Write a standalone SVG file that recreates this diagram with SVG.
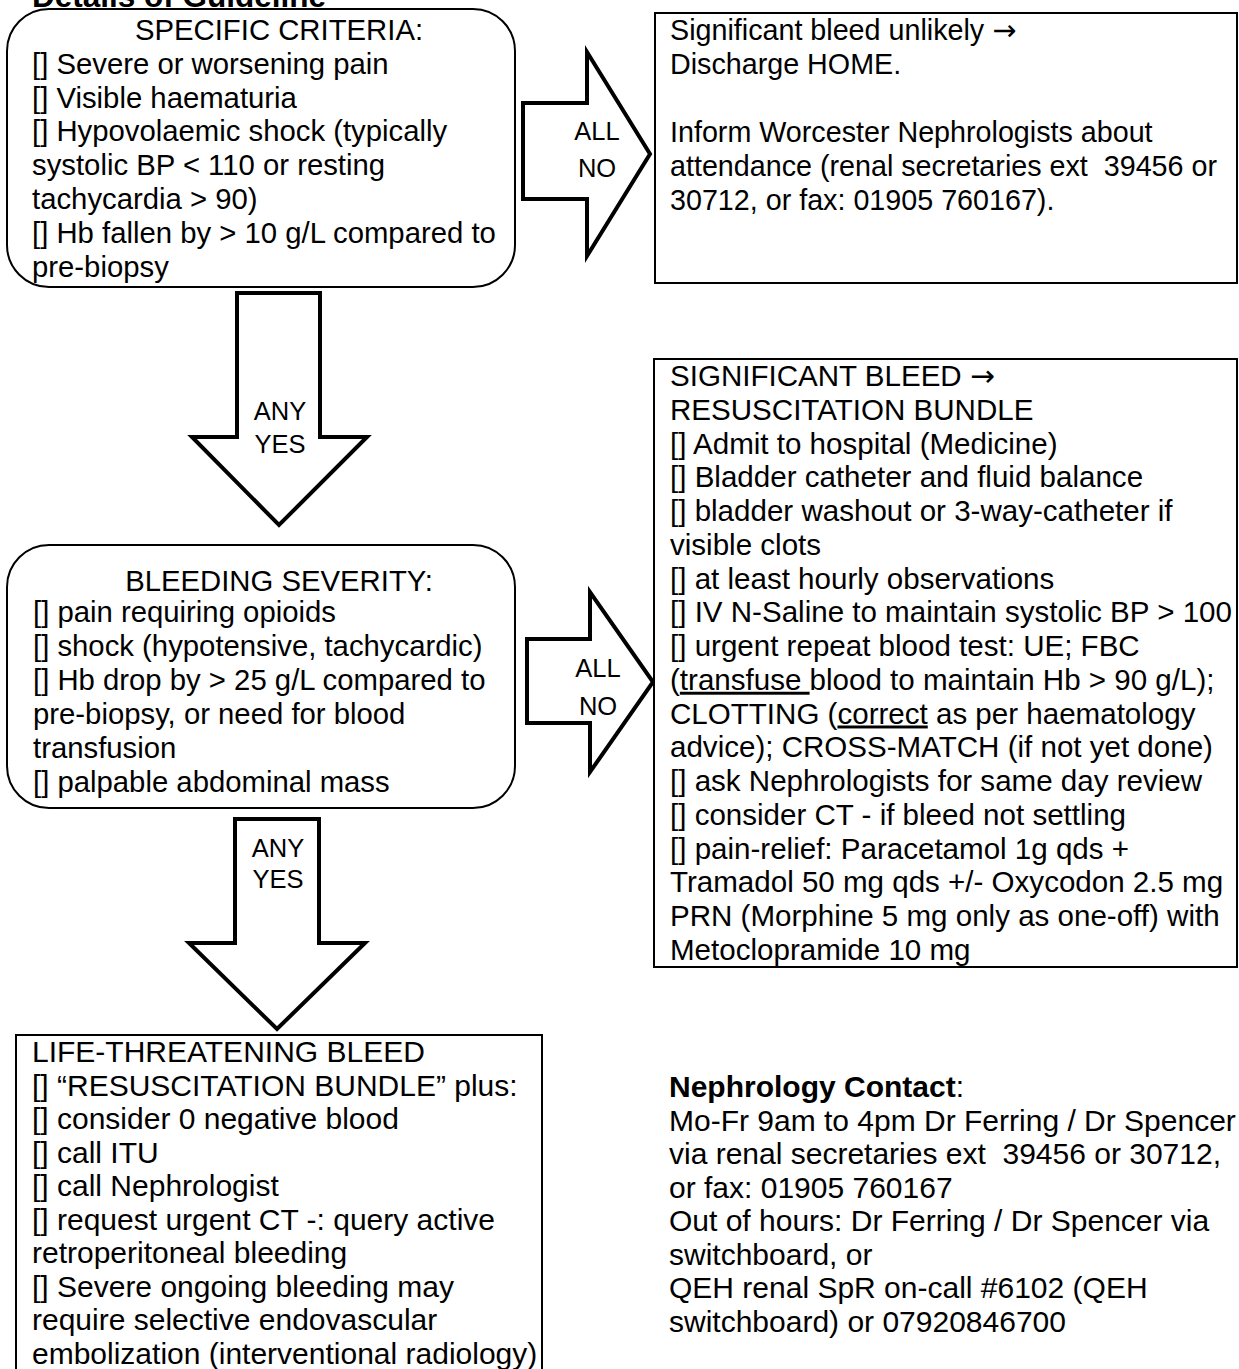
<svg xmlns="http://www.w3.org/2000/svg" width="1239" height="1369" viewBox="0 0 1239 1369">
<style>
text{font-family:"Liberation Sans",Arial,sans-serif;font-size:29.3px;fill:#000}
.title{font-weight:bold;font-size:31.5px}
.c{text-anchor:middle}
.lbl{font-size:25.5px;text-anchor:middle}
.box{fill:#fff;stroke:#000;stroke-width:2}
.arr{fill:#fff;stroke:#000;stroke-width:4;stroke-linejoin:miter}
.b{font-weight:bold}
.sym{font-family:"DejaVu Sans",sans-serif}
.w text{font-size:29.55px}
.w2 text{font-size:30px}
.n text{font-size:28.7px}
</style>
<rect width="1239" height="1369" fill="#fff"/>
<text class="title" x="32" y="7">Details of Guideline</text>

<g id="connectors">
<g id="arrow-allno-1">
<polygon class="arr" points="523,103 587,103 587,52 650,154 587,256 587,199 523,199"/>
<text class="lbl" x="597" y="140">ALL</text>
<text class="lbl" x="597" y="177">NO</text>
</g>
<g id="arrow-anyyes-1">
<polygon class="arr" points="237,293 320,293 320,437 367,437 279,525 192,437 237,437"/>
<text class="lbl" x="280" y="420">ANY</text>
<text class="lbl" x="280" y="453">YES</text>
</g>
<g id="arrow-allno-2">
<polygon class="arr" points="527,639 590,639 590,592 653,682 590,772 590,723 527,723"/>
<text class="lbl" x="598" y="677">ALL</text>
<text class="lbl" x="598" y="715">NO</text>
</g>
<g id="arrow-anyyes-2">
<polygon class="arr" points="235,819 319,819 319,943 365,943 277,1029 189,943 235,943"/>
<text class="lbl" x="278" y="857">ANY</text>
<text class="lbl" x="278" y="888">YES</text>
</g>
</g>

<g id="specific-criteria">
<rect class="box" x="7" y="9" width="508" height="278" rx="42" ry="42"/>
<text class="c" x="279" y="40">SPECIFIC CRITERIA:</text>
<text x="32" y="74">[] Severe or worsening pain</text>
<text x="32" y="107.6">[] Visible haematuria</text>
<text x="32" y="141.4">[] Hypovolaemic shock (typically</text>
<text x="32" y="175.2">systolic BP &lt; 110 or resting</text>
<text x="32" y="209">tachycardia &gt; 90)</text>
<text x="32" y="242.8">[] Hb fallen by &gt; 10 g/L compared to</text>
<text x="32" y="276.6">pre-biopsy</text>
</g>

<g id="discharge-home" class="n">
<rect class="box" x="655" y="13" width="582" height="270"/>
<text x="670" y="40">Significant bleed unlikely <tspan class="sym">→</tspan></text>
<text x="670" y="74">Discharge HOME.</text>
<text x="670" y="142">Inform Worcester Nephrologists about</text>
<text x="670" y="176">attendance (renal secretaries ext&#160; 39456 or</text>
<text x="670" y="210">30712, or fax: 01905 760167).</text>
</g>

<g id="bleeding-severity">
<rect class="box" x="7" y="545" width="508" height="263" rx="42" ry="42"/>
<text class="c" x="279" y="591">BLEEDING SEVERITY:</text>
<text x="33" y="622">[] pain requiring opioids</text>
<text x="33" y="656">[] shock (hypotensive, tachycardic)</text>
<text x="33" y="690">[] Hb drop by &gt; 25 g/L compared to</text>
<text x="33" y="724">pre-biopsy, or need for blood</text>
<text x="33" y="758">transfusion</text>
<text x="33" y="792">[] palpable abdominal mass</text>
</g>

<g id="significant-bleed" class="w">
<rect class="box" x="654" y="359" width="583" height="608"/>
<text x="670" y="386">SIGNIFICANT BLEED <tspan class="sym">→</tspan></text>
<text x="670" y="419.75">RESUSCITATION BUNDLE</text>
<text x="670" y="453.5">[] Admit to hospital (Medicine)</text>
<text x="670" y="487.25">[] Bladder catheter and fluid balance</text>
<text x="670" y="521">[] bladder washout or 3-way-catheter if</text>
<text x="670" y="554.75">visible clots</text>
<text x="670" y="588.5">[] at least hourly observations</text>
<text x="670" y="622.25">[] IV N-Saline to maintain systolic BP &gt; 100</text>
<text x="670" y="656">[] urgent repeat blood test: UE; FBC</text>
<text x="670" y="689.75">(<tspan text-decoration="underline">transfuse </tspan>blood to maintain Hb &gt; 90 g/L);</text>
<text x="670" y="723.5">CLOTTING (<tspan text-decoration="underline">correct</tspan> as per haematology</text>
<text x="670" y="757.25">advice); CROSS-MATCH (if not yet done)</text>
<text x="670" y="791">[] ask Nephrologists for same day review</text>
<text x="670" y="824.75">[] consider CT - if bleed not settling</text>
<text x="670" y="858.5">[] pain-relief: Paracetamol 1g qds +</text>
<text x="670" y="892.25">Tramadol 50 mg qds +/- Oxycodon 2.5 mg</text>
<text x="670" y="926">PRN (Morphine 5 mg only as one-off) with</text>
<text x="670" y="959.75">Metoclopramide 10 mg</text>
</g>

<g id="life-threatening" class="w2">
<rect class="box" x="16" y="1035" width="526" height="360"/>
<text x="32" y="1062">LIFE-THREATENING BLEED</text>
<text x="32" y="1095.5">[] “RESUSCITATION BUNDLE” plus:</text>
<text x="32" y="1129">[] consider 0 negative blood</text>
<text x="32" y="1162.5">[] call ITU</text>
<text x="32" y="1196">[] call Nephrologist</text>
<text x="32" y="1229.5">[] request urgent CT -: query active</text>
<text x="32" y="1263">retroperitoneal bleeding</text>
<text x="32" y="1296.5">[] Severe ongoing bleeding may</text>
<text x="32" y="1330">require selective endovascular</text>
<text x="32" y="1363.5">embolization (interventional radiology)</text>
</g>

<g id="nephrology-contact" class="w2">
<text x="669" y="1097"><tspan class="b">Nephrology Contact</tspan>:</text>
<text x="669" y="1130.5">Mo-Fr 9am to 4pm Dr Ferring / Dr Spencer</text>
<text x="669" y="1164">via renal secretaries ext&#160; 39456 or 30712,</text>
<text x="669" y="1197.5">or fax: 01905 760167</text>
<text x="669" y="1231">Out of hours: Dr Ferring / Dr Spencer via</text>
<text x="669" y="1264.5">switchboard, or</text>
<text x="669" y="1298">QEH renal SpR on-call #6102 (QEH</text>
<text x="669" y="1331.5">switchboard) or 07920846700</text>
</g>
</svg>
